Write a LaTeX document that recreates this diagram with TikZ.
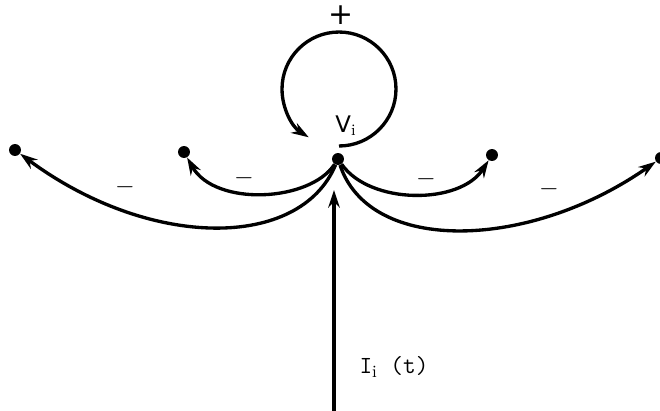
\documentclass[tikz,border=0pt]{standalone}
\usepackage{fontspec}
\setsansfont{DejaVu Sans}
\usetikzlibrary{arrows.meta}
\begin{document}
\begin{tikzpicture}[x=0.02cm,y=-0.02cm,
  dot/.style={circle,fill=black,inner sep=0pt,minimum size=6.8pt},
  conn/.style={line width=1.9pt,-{Stealth[length=10pt,width=6.5pt]}},
  lbl/.style={font=\sffamily\fontsize{13}{15}\selectfont},
  minus/.style={font=\fontsize{14}{16}\selectfont}]
\useasboundingbox (0,0) rectangle (660,411);
\node[dot] (c) at (338,159) {};
\node[dot] (l1) at (15,150) {};
\node[dot] (l2) at (184,152) {};
\node[dot] (r1) at (492,155) {};
\node[dot] (r2) at (661,158) {};
% curves
\draw[conn] (c) .. controls (300,250) and (150,250) .. (l1);
\draw[conn] (c) .. controls (310,202) and (215,207) .. (l2);
\draw[conn] (c) .. controls (370,205) and (460,205) .. (r1);
\draw[conn] (c) .. controls (370,255) and (530,250) .. (r2);
% self loop
\coordinate (ls) at (339,146);
\draw[conn] (ls) arc[start angle=-90,end angle=238,radius=1.14cm];
% input
\coordinate (bot) at (334,411);
\coordinate (tip) at (334,190);
\draw[conn] (bot) -- (tip);
% labels
\node[font=\sffamily\fontsize{17}{19}\selectfont] (plus) at (341,15) {+};
\node[lbl] (vi) at (346,126) {V$_{\mathrm{i}}$};
\node[minus] (m1) at (125,187) {$-$};
\node[minus] (m2) at (244,178) {$-$};
\node[minus] (m3) at (426,179) {$-$};
\node[minus] (m4) at (549,189) {$-$};
\node[font=\ttfamily\fontsize{14}{16}\selectfont] (it) at (394,367) {I$_{\mathrm{i}}$ (t)};
\end{tikzpicture}
\end{document}
